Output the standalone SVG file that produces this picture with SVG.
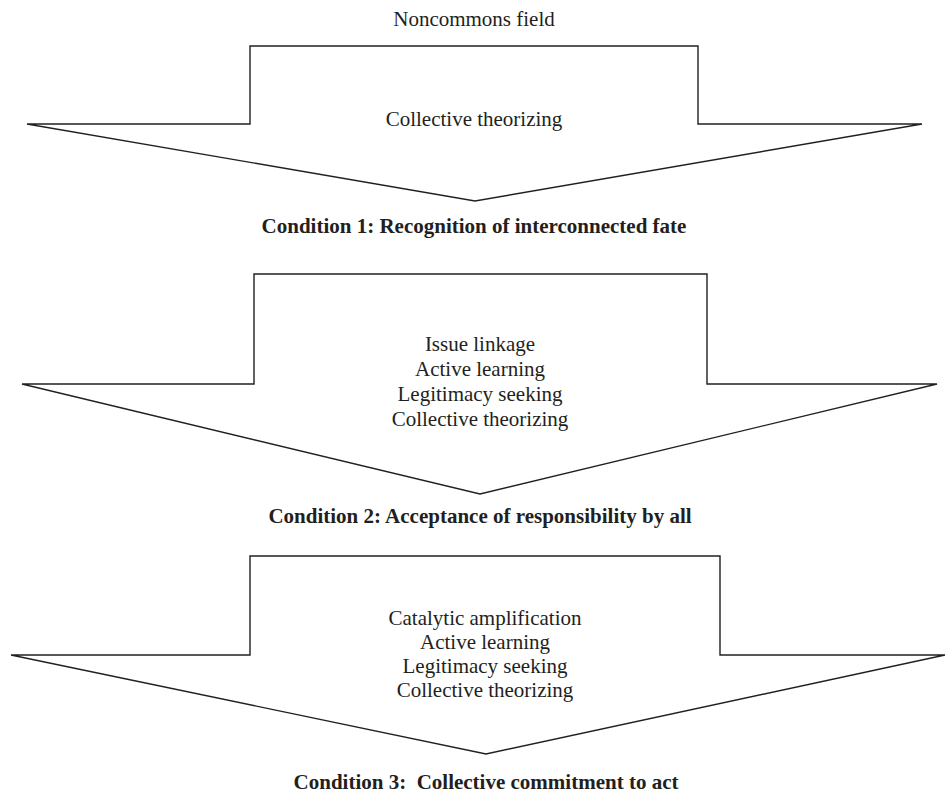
<svg xmlns="http://www.w3.org/2000/svg" width="946" height="793" viewBox="0 0 946 793">
<style>
.arrow{fill:#ffffff;stroke:#231f20;stroke-width:1.4;stroke-linejoin:miter}
text{font-family:"Liberation Serif","Times New Roman",serif;font-size:21px;fill:#231f20;text-anchor:middle}
.b{font-weight:bold}
</style>
<rect width="946" height="793" fill="#ffffff"/>
<text x="474" y="26">Noncommons field</text>
<g id="arrow1">
<polygon class="arrow" points="250,46 698,46 698,124 922,124 475,201 27,124 250,124"/>
<text x="474" y="126">Collective theorizing</text>
</g>
<text class="b" x="474" y="233">Condition 1: Recognition of interconnected fate</text>
<g id="arrow2">
<polygon class="arrow" points="254,274 707,274 707,384 937,384 480,494 22,384 254,384"/>
<text x="480" y="351">Issue linkage</text>
<text x="480" y="376">Active learning</text>
<text x="480" y="401">Legitimacy seeking</text>
<text x="480" y="426">Collective theorizing</text>
</g>
<text class="b" x="480" y="523">Condition 2: Acceptance of responsibility by all</text>
<g id="arrow3">
<polygon class="arrow" points="250,556 720,556 720,655 945,655 486,754 11,655 250,655"/>
<text x="485" y="625">Catalytic amplification</text>
<text x="485" y="649">Active learning</text>
<text x="485" y="673">Legitimacy seeking</text>
<text x="485" y="697">Collective theorizing</text>
</g>
<text class="b" x="486" y="789" xml:space="preserve">Condition 3:  Collective commitment to act</text>
<g id="connectors"></g>
</svg>
